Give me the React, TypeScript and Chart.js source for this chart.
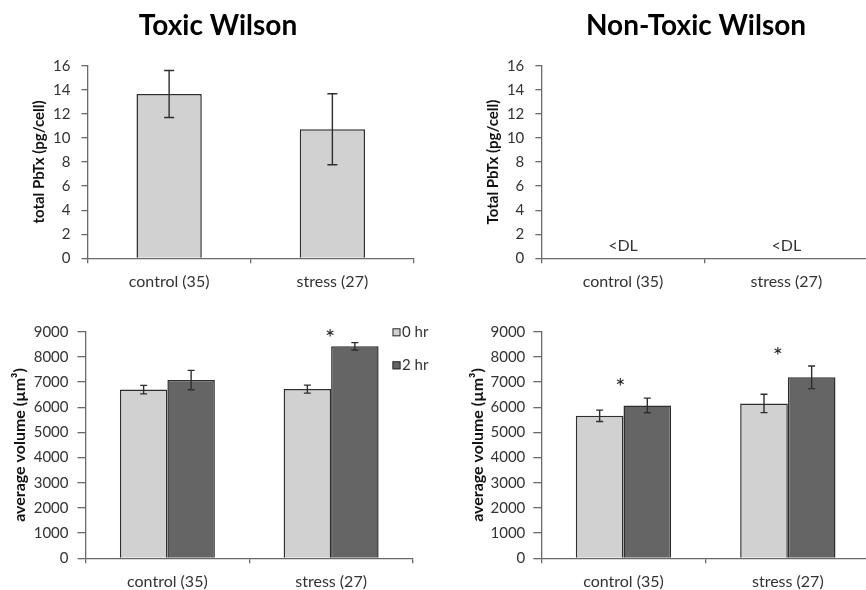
import React, { useEffect, useRef } from 'react';
import { Chart, registerables } from 'chart.js';

Chart.register(...registerables);

// ---------------- data ----------------
const categories = ['control (35)', 'stress (27)'];
const seriesLabels = ['0 hr', '2 hr'];

const toxicTitle = 'Toxic Wilson';
const nonToxicTitle = 'Non-Toxic Wilson';
const pbTxAxisTitleToxic = 'total PbTx (pg/cell)';
const pbTxAxisTitleNonToxic = 'Total PbTx (pg/cell)';
const volumeAxisTitle = 'average volume (µm³)';

const toxicPbTx = [13.65, 10.72];
const toxicPbTxErr = [1.95, 2.95];
const nonToxicPbTx = [null, null];
const nonToxicPbTxNote = ['<DL', '<DL'];

const toxicVol0 = [6700, 6720];
const toxicVol0Err = [170, 160];
const toxicVol2 = [7080, 8420];
const toxicVol2Err = [385, 145];

const nonToxicVol0 = [5660, 6150];
const nonToxicVol0Err = [225, 365];
const nonToxicVol2 = [6070, 7190];
const nonToxicVol2Err = [290, 450];

const toxicVolSig = [null, 8935];
const nonToxicVolSig = [7010, 8245];

const pbTxMax = 16;
const pbTxStep = 2;
const volMax = 9000;
const volStep = 1000;

// ---------------- style ----------------
const FONT = 'Lato, "Open Sans", "DejaVu Sans", sans-serif';
const LIGHT = '#d1d1d1';
const DARK = '#656565';
const EDGE = '#2e2e2e';
const AXIS = '#6a6a6a';
const TEXT = '#333333';

type Rect = { l: number; t: number; r: number; b: number };
type Spec = {
  x: number; y: number; w: number; h: number;
  area: Rect;
  datasets: any[];
  yMax: number; yStep: number;
  yTitle: string; yTitleX: number; yTitleSize: number; yTitleWeight: string;
  yTickLen: number; yTickPad: number;
  title?: string; titleX?: number; titleBase?: number;
  notes?: (string | null)[];
  sig?: (number | null)[]; sigDx?: number[];
  legend?: { x: number; y: number; gap: number };
  cap: number;
};

function makeDecor(spec: Spec) {
  return {
    id: 'panelDecor',
    afterDatasetsDraw(chart: any) {
      const ctx = chart.ctx;
      const ys = chart.scales.y;
      chart.data.datasets.forEach((ds: any, di: number) => {
        const errs = ds.errors;
        if (!errs) return;
        const meta = chart.getDatasetMeta(di);
        meta.data.forEach((bar: any, i: number) => {
          const v = ds.data[i];
          const e = errs[i];
          if (v == null || e == null) return;
          const x = bar.x;
          const yHi = ys.getPixelForValue(v + e);
          const yLo = ys.getPixelForValue(v - e);
          ctx.save();
          ctx.strokeStyle = EDGE;
          ctx.lineWidth = 1.4;
          ctx.beginPath();
          ctx.moveTo(x, yHi); ctx.lineTo(x, yLo);
          ctx.moveTo(x - spec.cap, yHi); ctx.lineTo(x + spec.cap, yHi);
          ctx.moveTo(x - spec.cap, yLo); ctx.lineTo(x + spec.cap, yLo);
          ctx.stroke();
          ctx.restore();
        });
      });
    },
    afterDraw(chart: any) {
      const ctx = chart.ctx;
      const xs = chart.scales.x;
      const ys = chart.scales.y;
      ctx.save();
      if (spec.title) {
        ctx.font = `bold 28px ${FONT}`;
        ctx.fillStyle = '#000';
        ctx.textAlign = 'center';
        ctx.textBaseline = 'alphabetic';
        ctx.fillText(spec.title, (spec.titleX as number) - spec.x, (spec.titleBase as number) - spec.y);
      }
      if (spec.notes) {
        ctx.font = `16px ${FONT}`;
        ctx.fillStyle = TEXT;
        ctx.textAlign = 'center';
        ctx.textBaseline = 'middle';
        spec.notes.forEach((n, i) => {
          if (!n) return;
          ctx.fillText(n, xs.getPixelForValue(i), ys.getPixelForValue(0) - 12);
        });
      }
      if (spec.sig) {
        ctx.font = `24px ${FONT}`;
        ctx.fillStyle = '#222';
        ctx.textAlign = 'center';
        ctx.textBaseline = 'alphabetic';
        const m = ctx.measureText('*');
        const shift = (m.actualBoundingBoxAscent - m.actualBoundingBoxDescent) / 2;
        spec.sig.forEach((s, i) => {
          if (s == null) return;
          const dx = spec.sigDx ? spec.sigDx[i] : 0;
          ctx.fillText('*', xs.getPixelForValue(i) + dx, ys.getPixelForValue(s) + shift);
        });
      }
      if (spec.legend) {
        const lg = spec.legend;
        chart.data.datasets.forEach((ds: any, di: number) => {
          const bx = lg.x - spec.x;
          const cy = lg.y - spec.y + di * lg.gap;
          ctx.fillStyle = ds.backgroundColor;
          ctx.strokeStyle = EDGE;
          ctx.lineWidth = 1;
          ctx.fillRect(bx, cy - 4, 8, 8);
          ctx.strokeRect(bx + 0.5, cy - 3.5, 7, 7);
          ctx.font = `15px ${FONT}`;
          ctx.fillStyle = TEXT;
          ctx.textAlign = 'left';
          ctx.textBaseline = 'middle';
          ctx.fillText(ds.label, bx + 9.5, cy);
        });
      }
      ctx.restore();
    },
  };
}

function buildConfig(spec: Spec): any {
  const areaL = spec.area.l - spec.x;
  const areaT = spec.area.t - spec.y;
  const areaR = spec.area.r - spec.x;
  const areaB = spec.area.b - spec.y;
  const titleHalf = (spec.yTitleSize * 1.2) / 2;
  return {
    type: 'bar',
    data: { labels: categories, datasets: spec.datasets },
    options: {
      responsive: false,
      maintainAspectRatio: false,
      animation: false,
      events: [],
      layout: { padding: { left: 0, top: areaT, right: spec.w - areaR, bottom: 0 } },
      plugins: { legend: { display: false }, tooltip: { enabled: false }, title: { display: false } },
      scales: {
        x: {
          grid: { drawOnChartArea: false, drawTicks: true, tickLength: 5, color: AXIS, lineWidth: 1.3, offset: true },
          border: { color: AXIS, width: 1.3 },
          ticks: { color: TEXT, font: { family: FONT, size: 16 }, padding: 8.5, maxRotation: 0, autoSkip: false },
          afterFit: (s: any) => { s.height = spec.h - areaB; },
        },
        y: {
          min: 0,
          max: spec.yMax,
          grid: { drawOnChartArea: false, drawTicks: true, tickLength: spec.yTickLen, color: AXIS, lineWidth: 1.3 },
          border: { color: AXIS, width: 1.3 },
          ticks: {
            stepSize: spec.yStep,
            color: TEXT,
            font: { family: FONT, size: 15 },
            padding: spec.yTickPad,
            autoSkip: false,
            callback: (v: any) => String(v),
          },
          title: {
            display: true,
            text: spec.yTitle,
            color: '#111',
            font: { family: FONT, size: spec.yTitleSize, weight: spec.yTitleWeight },
            padding: { top: spec.yTitleX - spec.x - titleHalf, bottom: 0 },
          },
          afterFit: (s: any) => { s.width = areaL; },
        },
      },
    },
    plugins: [makeDecor(spec)],
  };
}

const singleBar = { categoryPercentage: 0.8, barPercentage: 0.5, borderColor: EDGE, borderWidth: 1.5 };
const pairBar = { categoryPercentage: 0.58, barPercentage: 1.0, borderColor: EDGE, borderWidth: 1.5 };

const specs: Spec[] = [
  {
    x: 0, y: 0, w: 433, h: 300,
    area: { l: 87.5, t: 65.7, r: 414, b: 258.3 },
    datasets: [{ ...singleBar, label: 'PbTx', data: toxicPbTx, errors: toxicPbTxErr, backgroundColor: LIGHT }],
    yMax: pbTxMax, yStep: pbTxStep,
    yTitle: pbTxAxisTitleToxic, yTitleX: 39, yTitleSize: 15, yTitleWeight: 'bold',
    yTickLen: 6, yTickPad: 11,
    title: toxicTitle, titleX: 218, titleBase: 35,
    cap: 5,
  },
  {
    x: 433, y: 0, w: 437, h: 300,
    area: { l: 541.3, t: 65.7, r: 868, b: 258.3 },
    datasets: [{ ...singleBar, label: 'PbTx', data: nonToxicPbTx, backgroundColor: LIGHT }],
    yMax: pbTxMax, yStep: pbTxStep,
    yTitle: pbTxAxisTitleNonToxic, yTitleX: 493, yTitleSize: 15, yTitleWeight: 'bold',
    yTickLen: 6, yTickPad: 11,
    title: nonToxicTitle, titleX: 696, titleBase: 35,
    notes: nonToxicPbTxNote,
    cap: 5,
  },
  {
    x: 0, y: 300, w: 433, h: 290,
    area: { l: 85.5, t: 331.7, r: 413, b: 558.3 },
    datasets: [
      { ...pairBar, label: seriesLabels[0], data: toxicVol0, errors: toxicVol0Err, backgroundColor: LIGHT },
      { ...pairBar, label: seriesLabels[1], data: toxicVol2, errors: toxicVol2Err, backgroundColor: DARK },
    ],
    yMax: volMax, yStep: volStep,
    yTitle: volumeAxisTitle, yTitleX: 20, yTitleSize: 16, yTitleWeight: 'bold',
    yTickLen: 8, yTickPad: 9,
    sig: toxicVolSig, sigDx: [0, -1],
    legend: { x: 392.5, y: 332.3, gap: 33 },
    cap: 3.5,
  },
  {
    x: 433, y: 300, w: 437, h: 290,
    area: { l: 541.3, t: 331.7, r: 870, b: 558.3 },
    datasets: [
      { ...pairBar, label: seriesLabels[0], data: nonToxicVol0, errors: nonToxicVol0Err, backgroundColor: LIGHT },
      { ...pairBar, label: seriesLabels[1], data: nonToxicVol2, errors: nonToxicVol2Err, backgroundColor: DARK },
    ],
    yMax: volMax, yStep: volStep,
    yTitle: volumeAxisTitle, yTitleX: 478, yTitleSize: 16, yTitleWeight: 'bold',
    yTickLen: 8, yTickPad: 8,
    sig: nonToxicVolSig, sigDx: [-3, -10],
    cap: 3.5,
  },
];

function Panel({ spec }: { spec: Spec }) {
  const ref = useRef<HTMLCanvasElement>(null);
  useEffect(() => {
    const canvas = ref.current as HTMLCanvasElement;
    const chart = new Chart(canvas, buildConfig(spec));
    return () => chart.destroy();
  }, [spec]);
  return (
    <canvas
      ref={ref}
      width={spec.w}
      height={spec.h}
      style={{ position: 'absolute', left: spec.x, top: spec.y, width: spec.w, height: spec.h }}
    />
  );
}

export default function App() {
  return (
    <div
      style={{
        position: 'absolute', left: 0, top: 0, width: 866, height: 590,
        overflow: 'hidden', background: '#fff',
      }}
    >
      {specs.map((s, i) => (
        <Panel key={i} spec={s} />
      ))}
    </div>
  );
}
